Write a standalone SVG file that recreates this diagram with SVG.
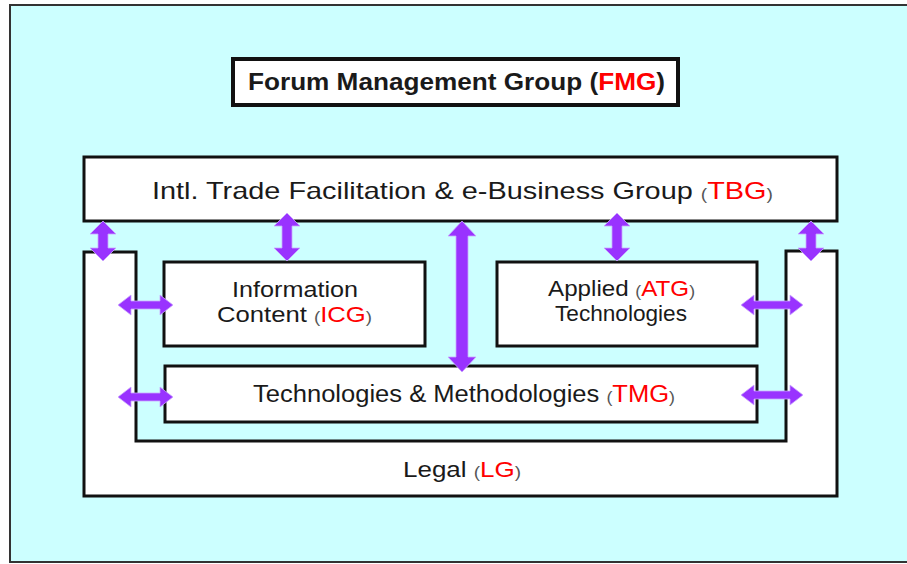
<svg xmlns="http://www.w3.org/2000/svg" width="907" height="564" viewBox="0 0 907 564">
<style>
.box{fill:#ffffff;stroke:#111;stroke-width:3}
.t{font-family:"Liberation Sans",Arial,sans-serif;fill:#1a1a1a}
.r{fill:#ff0000}
.p{fill:#555;font-size:16px}
.arr{fill:#9933ff;stroke:#c9a6ff;stroke-width:0.8}
</style>
<rect x="0" y="0" width="907" height="564" fill="#ffffff"/>
<rect id="frame" x="10" y="5" width="900" height="557" fill="#ccffff" stroke="#333" stroke-width="2"/>

<g id="fmg">
<rect x="233" y="59" width="445" height="46" fill="#fff" stroke="#111" stroke-width="4"/>
<text class="t" x="248" y="90" font-size="24" font-weight="bold" textLength="417" lengthAdjust="spacingAndGlyphs">Forum Management Group (<tspan class="r">FMG</tspan>)</text>
</g>

<g id="tbg">
<rect class="box" x="84" y="157" width="753" height="64"/>
<text class="t" x="152" y="199" font-size="24" textLength="621" lengthAdjust="spacingAndGlyphs">Intl. Trade Facilitation &amp; e-Business Group <tspan class="p" dy="1">(</tspan><tspan class="r" dy="-1" font-size="24">TBG</tspan><tspan class="p" dy="1">)</tspan></text>
</g>

<g id="lg">
<path class="box" d="M84,252 L136,252 L136,441 L786,441 L786,251 L837,251 L837,496 L84,496 Z"/>
<text class="t" x="403" y="477" font-size="22" textLength="118" lengthAdjust="spacingAndGlyphs">Legal <tspan class="p" dy="1">(</tspan><tspan class="r" dy="-1" font-size="22">LG</tspan><tspan class="p" dy="1">)</tspan></text>
</g>

<g id="icg">
<rect class="box" x="164" y="262" width="261" height="84"/>
<text class="t" x="232" y="297" font-size="22" textLength="126" lengthAdjust="spacingAndGlyphs">Information</text>
<text class="t" x="217" y="322" font-size="22" textLength="155" lengthAdjust="spacingAndGlyphs">Content <tspan class="p" dy="1">(</tspan><tspan class="r" dy="-1" font-size="22">ICG</tspan><tspan class="p" dy="1">)</tspan></text>
</g>

<g id="atg">
<rect class="box" x="497" y="262" width="260" height="84"/>
<text class="t" x="548" y="296" font-size="22" textLength="147" lengthAdjust="spacingAndGlyphs">Applied <tspan class="p" dy="1">(</tspan><tspan class="r" dy="-1" font-size="22">ATG</tspan><tspan class="p" dy="1">)</tspan></text>
<text class="t" x="555" y="321" font-size="22" textLength="132" lengthAdjust="spacingAndGlyphs">Technologies</text>
</g>

<g id="tmg">
<rect class="box" x="165" y="366" width="592" height="56"/>
<text class="t" x="253" y="402" font-size="23" textLength="422" lengthAdjust="spacingAndGlyphs">Technologies &amp; Methodologies <tspan class="p" dy="1">(</tspan><tspan class="r" dy="-1" font-size="23">TMG</tspan><tspan class="p" dy="1">)</tspan></text>
</g>

<g id="connectors">
<polygon class="arr" points="103,221 116,234 108,234 108,248 116,248 103,261 90,248 98,248 98,234 90,234"/>
<polygon class="arr" points="287,213 300,226 292,226 292,248 300,248 287,261 274,248 282,248 282,226 274,226"/>
<polygon class="arr" points="462,221 476,236 468,236 468,357 476,357 462,372 448,357 456,357 456,236 448,236"/>
<polygon class="arr" points="617,213 630,226 622,226 622,248 630,248 617,261 604,248 612,248 612,226 604,226"/>
<polygon class="arr" points="811,221 824,234 816,234 816,248 824,248 811,261 798,248 806,248 806,234 798,234"/>
<polygon class="arr" points="118,305 131,295 131,301 160,301 160,295 173,305 160,315 160,309 131,309 131,315"/>
<polygon class="arr" points="118,397 131,387 131,393 160,393 160,387 173,397 160,407 160,401 131,401 131,407"/>
<polygon class="arr" points="741,305 754,295 754,301 790,301 790,295 803,305 790,315 790,309 754,309 754,315"/>
<polygon class="arr" points="741,395 754,385 754,391 790,391 790,385 803,395 790,405 790,399 754,399 754,405"/>
</g>
</svg>
